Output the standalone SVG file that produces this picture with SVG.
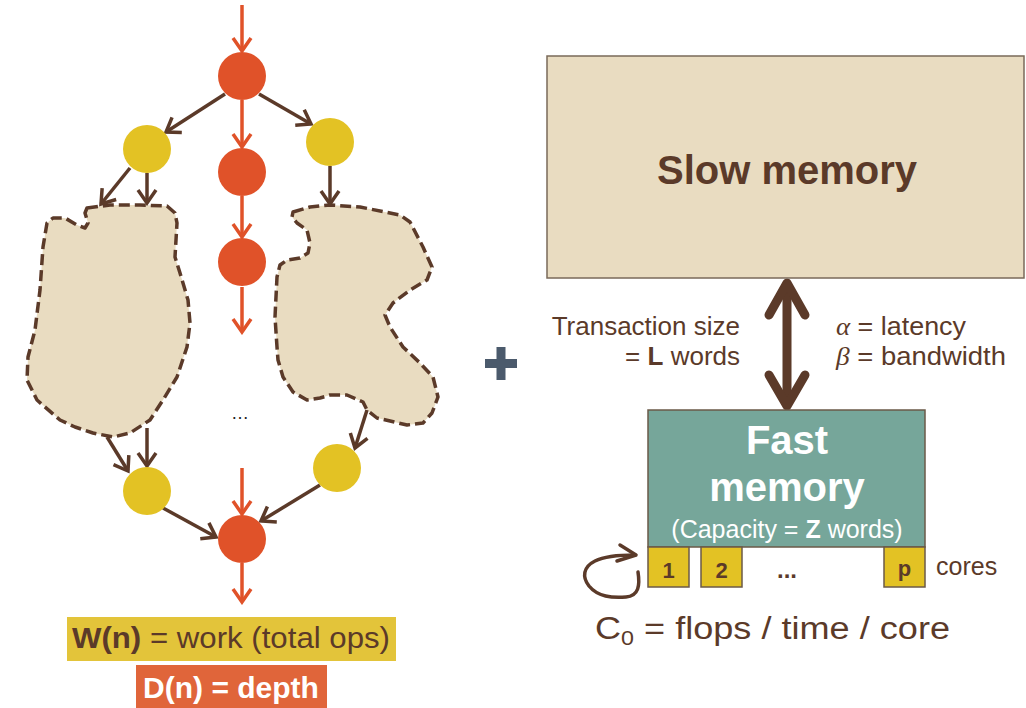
<svg xmlns="http://www.w3.org/2000/svg" width="1026" height="708" viewBox="0 0 1026 708">
<style>
.red{fill:#e05229}
.yel{fill:#e3c224}
.ered{stroke:#e05229;stroke-width:3.5;fill:none}
.ebr{stroke:#5b3a29;stroke-width:3.5;fill:none}
.blob{fill:#e9dcc1;stroke:#5b3a29;stroke-width:3.5;stroke-dasharray:11 5;stroke-linejoin:round}
.t{font-family:"Liberation Sans",Arial,sans-serif;fill:#5b3a29}
.b{font-weight:bold}
.core{fill:#e3c224;stroke:#6b5a48;stroke-width:1.5}
</style>
<defs>
<marker id="ahr" markerUnits="userSpaceOnUse" viewBox="0 0 20 24" refX="17" refY="12" markerWidth="20" markerHeight="24" orient="auto">
<path d="M4,3 L17,12 L4,21" fill="none" stroke="#e05229" stroke-width="3.5"/>
</marker>
<marker id="ahb" markerUnits="userSpaceOnUse" viewBox="0 0 20 24" refX="17" refY="12" markerWidth="20" markerHeight="24" orient="auto">
<path d="M4,3 L17,12 L4,21" fill="none" stroke="#5b3a29" stroke-width="3.5"/>
</marker>
</defs>
<rect width="1026" height="708" fill="#ffffff"/>

<g id="blob-left">
<path class="blob" d="M87,208 L110,205 L140,205 L167,206 L175,213 L177,223 L176,240 L175,257 L180,273 L188,300 L190,323 L187,347 L177,377 L163,400 L150,420 L130,433 L113,437 L93,433 L75,427 L60,420 L37,400 L27,380 L28,357 L35,330 L40,290 L43,247 L47,223 L53,218 L65,218 L77,225 L85,228 L88,223 L85,213 Z"/>
</g>
<g id="blob-right">
<path class="blob" d="M293,212 L310,207 L330,205 L360,207 L400,215 L410,222 L423,247 L432,267 L427,280 L410,290 L393,303 L385,315 L390,327 L403,347 L420,363 L433,377 L438,397 L432,413 L423,423 L407,425 L377,418 L367,410 L363,402 L347,395 L330,395 L320,398 L307,400 L293,392 L283,377 L278,360 L277,347 L275,317 L277,277 L280,265 L287,260 L300,258 L308,253 L310,243 L307,230 L297,223 L292,217 Z"/>
</g>

<g id="connectors">
<line class="ered" x1="242" y1="5" x2="242" y2="51" marker-end="url(#ahr)"/>
<line class="ered" x1="242" y1="100" x2="242" y2="147" marker-end="url(#ahr)"/>
<line class="ered" x1="242" y1="196" x2="242" y2="237" marker-end="url(#ahr)"/>
<line class="ered" x1="242" y1="287" x2="242" y2="332" marker-end="url(#ahr)"/>
<line class="ered" x1="242" y1="468" x2="242" y2="514" marker-end="url(#ahr)"/>
<line class="ered" x1="242" y1="563" x2="242" y2="602" marker-end="url(#ahr)"/>
<line class="ebr" x1="225" y1="94" x2="166" y2="132" marker-end="url(#ahb)"/>
<line class="ebr" x1="259" y1="94" x2="311" y2="124" marker-end="url(#ahb)"/>
<line class="ebr" x1="130" y1="168" x2="101" y2="204" marker-end="url(#ahb)"/>
<line class="ebr" x1="147" y1="173" x2="147" y2="203" marker-end="url(#ahb)"/>
<line class="ebr" x1="330" y1="166" x2="330" y2="204" marker-end="url(#ahb)"/>
<line class="ebr" x1="107" y1="437" x2="128" y2="471" marker-end="url(#ahb)"/>
<line class="ebr" x1="147" y1="428" x2="147" y2="466" marker-end="url(#ahb)"/>
<line class="ebr" x1="367" y1="410" x2="355" y2="448" marker-end="url(#ahb)"/>
<line class="ebr" x1="163" y1="508" x2="216" y2="537" marker-end="url(#ahb)"/>
<line class="ebr" x1="320" y1="485" x2="261" y2="521" marker-end="url(#ahb)"/>
<g id="double-arrow" stroke="#5b3a29" stroke-width="9" fill="none" stroke-linecap="round" stroke-linejoin="round">
<line x1="787" y1="285" x2="787" y2="404"/>
<polyline points="769,315 787,283 805,315"/>
<polyline points="769,375 787,406 805,375"/>
</g>
<path d="M638,572 C640,585 639,596 626,597 C612,598 598,597 589,586 C582,577 583,567 595,561 C605,556 620,555 635,555" stroke="#5b3a29" stroke-width="3.5" fill="none" stroke-linecap="round"/>
<polyline points="620,545 636,555 617,561" stroke="#5b3a29" stroke-width="3.5" fill="none" stroke-linecap="round" stroke-linejoin="round"/>
</g>

<g id="n-top"><circle class="red" cx="242" cy="76" r="24"/></g>
<g id="n-mid1"><circle class="red" cx="242" cy="172" r="24"/></g>
<g id="n-mid2"><circle class="red" cx="242" cy="262" r="24"/></g>
<g id="n-bottom"><circle class="red" cx="242" cy="539" r="24"/></g>
<g id="n-yl1"><circle class="yel" cx="147" cy="149" r="24"/></g>
<g id="n-yr1"><circle class="yel" cx="330" cy="142" r="24"/></g>
<g id="n-yl2"><circle class="yel" cx="147" cy="491" r="24"/></g>
<g id="n-yr2"><circle class="yel" cx="337" cy="468" r="24"/></g>
<text class="t" x="240" y="419" font-size="18" text-anchor="middle" style="fill:#222222">…</text>

<g id="label-work">
<rect x="67" y="617" width="329" height="44" fill="#e3c43a"/>
<text class="t" x="72" y="648" font-size="29" textLength="318" lengthAdjust="spacingAndGlyphs"><tspan class="b">W(n)</tspan> = work (total ops)</text>
</g>
<g id="label-depth">
<rect x="136" y="665" width="191" height="43" fill="#e0653a"/>
<text class="t b" x="231" y="698" font-size="30" text-anchor="middle" style="fill:#ffffff">D(n) = depth</text>
</g>

<g id="plus" fill="#4b5a6c">
<rect x="485" y="359" width="32" height="9"/>
<rect x="496.5" y="347" width="9" height="33"/>
</g>

<g id="slow-memory">
<rect x="547" y="56" width="477" height="222" fill="#e9dcc1" stroke="#7a6a5a" stroke-width="1.5"/>
<text class="t b" x="787" y="184" font-size="40" text-anchor="middle">Slow memory</text>
</g>

<g id="transfer-labels">
<text class="t" x="740" y="335" font-size="26" text-anchor="end">Transaction size</text>
<text class="t" x="740" y="365" font-size="26" text-anchor="end">= <tspan class="b">L</tspan> words</text>
<text class="t" x="836" y="335" font-size="26" textLength="130" lengthAdjust="spacingAndGlyphs"><tspan font-family="'Liberation Serif',serif" font-style="italic">α</tspan> = latency</text>
<text class="t" x="836" y="365" font-size="26" textLength="170" lengthAdjust="spacingAndGlyphs"><tspan font-family="'Liberation Serif',serif" font-style="italic">β</tspan> = bandwidth</text>
</g>

<g id="fast-memory">
<rect x="648" y="410" width="277" height="137" fill="#76a69a" stroke="#6b5a48" stroke-width="1.5"/>
<text class="t b" x="787" y="454" font-size="40" text-anchor="middle" style="fill:#ffffff">Fast</text>
<text class="t b" x="787" y="501" font-size="40" text-anchor="middle" style="fill:#ffffff">memory</text>
<text class="t" x="787" y="538" font-size="25" text-anchor="middle" style="fill:#ffffff">(Capacity = <tspan class="b">Z</tspan> words)</text>
</g>

<g id="core-1"><rect class="core" x="648" y="547" width="41" height="40"/><text class="t b" x="668.5" y="578" font-size="22" text-anchor="middle">1</text></g>
<g id="core-2"><rect class="core" x="701" y="547" width="41" height="40"/><text class="t b" x="721.5" y="578" font-size="22" text-anchor="middle">2</text></g>
<text class="t b" x="787" y="578" font-size="24" text-anchor="middle">...</text>
<g id="core-p"><rect class="core" x="884" y="547" width="41" height="40"/><text class="t b" x="904.5" y="576" font-size="22" text-anchor="middle">p</text></g>
<text class="t" x="936" y="575" font-size="25">cores</text>

<text class="t" x="595" y="639" font-size="31" textLength="355" lengthAdjust="spacingAndGlyphs">C<tspan font-size="20" dy="6">0</tspan><tspan dy="-6"> = flops / time / core</tspan></text>
</svg>
